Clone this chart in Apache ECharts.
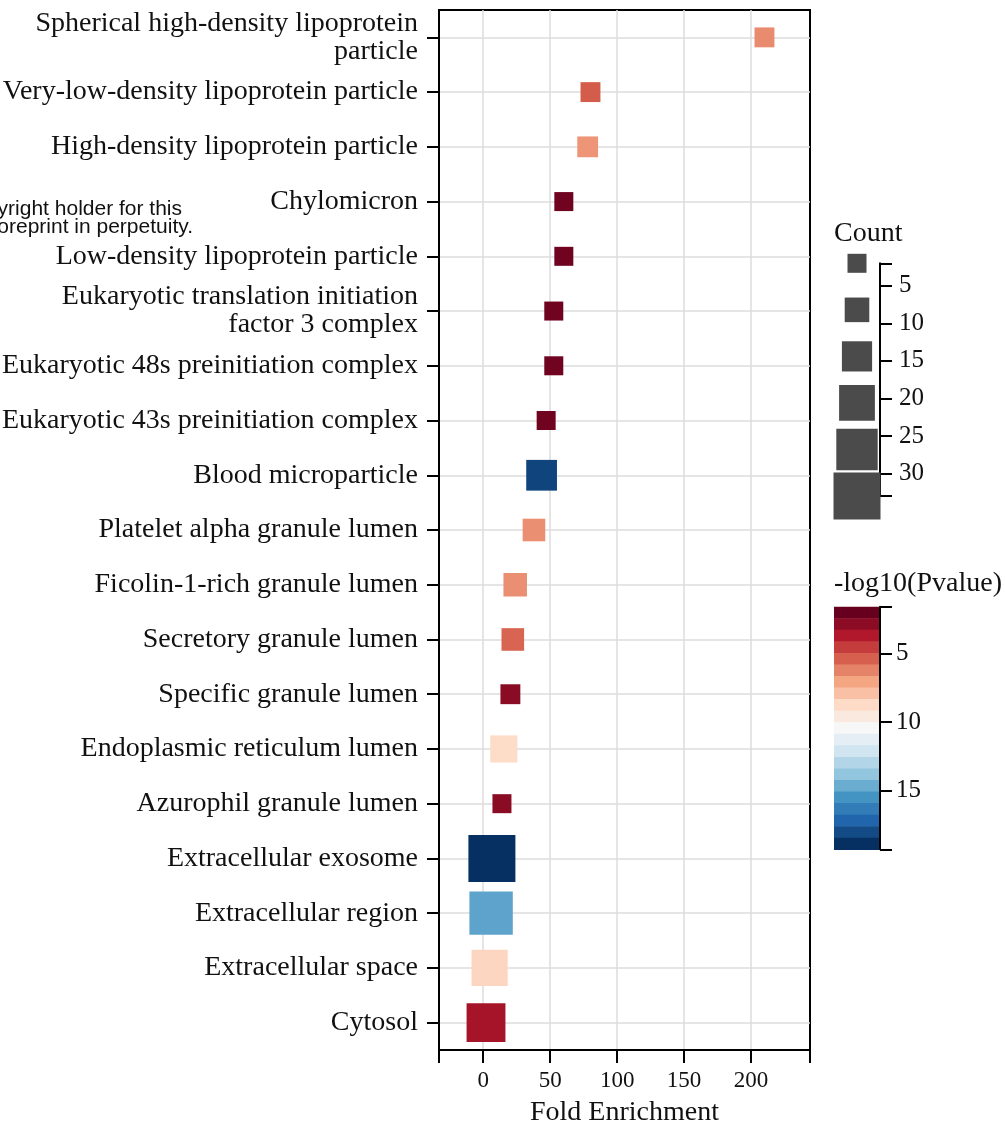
<!DOCTYPE html>
<html><head><meta charset="utf-8">
<script src="https://cdn.jsdelivr.net/npm/echarts@6/dist/echarts.min.js"></script>
<style>html,body{margin:0;padding:0;background:#fff}#c{width:1005px;height:1129px}</style>
</head><body><div id="c"></div>
<script>
// ---- data (top to bottom) ----
const categories = [
  'Spherical high-density lipoprotein\nparticle',
  'Very-low-density lipoprotein particle',
  'High-density lipoprotein particle',
  'Chylomicron',
  'Low-density lipoprotein particle',
  'Eukaryotic translation initiation\nfactor 3 complex',
  'Eukaryotic 48s preinitiation complex',
  'Eukaryotic 43s preinitiation complex',
  'Blood microparticle',
  'Platelet alpha granule lumen',
  'Ficolin-1-rich granule lumen',
  'Secretory granule lumen',
  'Specific granule lumen',
  'Endoplasmic reticulum lumen',
  'Azurophil granule lumen',
  'Extracellular exosome',
  'Extracellular region',
  'Extracellular space',
  'Cytosol'
];
const foldEnrichment = [210, 80.1, 78, 60.2, 60.2, 52.7, 52.7, 47.0, 43.6, 37.9, 23.9, 22.1, 20.3, 15.4, 14.0, 6.5, 5.9, 4.8, 2.1];
const geneCount      = [3, 3, 4, 2, 2, 2, 2, 2, 15, 6, 7, 6, 3, 11, 2, 33, 29, 21, 24];
const negLog10P      = [6.24, 5.04, 6.49, 1.8, 1.8, 1.8, 1.8, 1.8, 18.6, 6.33, 6.33, 5.27, 2.4, 8.7, 2.4, 19.25, 15.15, 8.5, 3.06];

const foldTicks = [0, 50, 100, 150, 200];
const countTicks = [5, 10, 15, 20, 25, 30];
const pTicks = [5, 10, 15];
const countLegendValues = [2, 8.2, 14.4, 20.6, 26.8, 33];

// ---- scales ----
const FOLD_MIN = -33, FOLD_MAX = 244;
const COUNT_MIN = 2, COUNT_MAX = 33;
const P_MIN = 1.6, P_MAX = 19.25;
const N_BANDS = 21;
const SIZE_MIN = 19, SIZE_MAX = 47;
function sizeFor(c) { return SIZE_MIN + (c - COUNT_MIN) * (SIZE_MAX - SIZE_MIN) / (COUNT_MAX - COUNT_MIN); }

const rdbu = ['#67001f','#b2182b','#d6604d','#f4a582','#fddbc7','#f7f7f7','#d1e5f0','#92c5de','#4393c3','#2166ac','#053061'];
function hex(h) { return [1, 3, 5].map(k => parseInt(h.substr(k, 2), 16)); }
function cmap(t) {
  t = Math.max(0, Math.min(1, t));
  const s = t * 10, k = Math.min(9, Math.floor(s)), f = s - k;
  const a = hex(rdbu[k]), b = hex(rdbu[k + 1]);
  return 'rgb(' + a.map((v, j) => Math.round(v + (b[j] - v) * f)).join(',') + ')';
}
function colorFor(p) { return cmap((p - P_MIN) / (P_MAX - P_MIN)); }
const bandIdx = Array.from({length: N_BANDS}, (_, i) => i);

const SERIF = 'Liberation Serif';
const black = '#000';

const chart = echarts.init(document.getElementById('c'), null, {renderer: 'canvas'});
chart.setOption({
  animation: false,
  backgroundColor: '#fff',
  textStyle: {fontFamily: SERIF, color: '#000'},
  grid: [
    {left: 439, right: 195, top: 10, bottom: 79, show: true, borderColor: black, borderWidth: 2, containLabel: false, outerBoundsMode: 'none'},
    {left: 834, width: 46, top: 263.3, height: 232.7, containLabel: false, outerBoundsMode: 'none'},
    {left: 834, width: 46, top: 606.7, height: 242.6, containLabel: false, outerBoundsMode: 'none'}
  ],
  xAxis: [
    {
      gridIndex: 0, type: 'value', min: FOLD_MIN, max: FOLD_MAX,
      name: 'Fold Enrichment', nameLocation: 'middle', nameGap: 49,
      nameTextStyle: {fontFamily: SERIF, fontSize: 28, color: '#111'},
      axisLine: {show: true, onZero: false, lineStyle: {color: black, width: 2}},
      axisTick: {show: true, length: 13, lineStyle: {color: black, width: 2}, customValues: foldTicks},
      axisLabel: {customValues: foldTicks, fontFamily: SERIF, fontSize: 23, color: '#111', margin: 19},
      splitLine: {show: true, lineStyle: {color: '#dcdcdc', width: 1.5}}
    },
    {gridIndex: 1, type: 'value', min: -1, max: 1, show: false},
    {gridIndex: 2, type: 'value', min: -1, max: 1, show: false},
    {
      gridIndex: 0, type: 'value', position: 'bottom', min: FOLD_MIN, max: FOLD_MAX,
      axisLine: {show: true, onZero: false, lineStyle: {color: black, width: 2}},
      axisTick: {show: true, length: 13, lineStyle: {color: black, width: 2}, customValues: [FOLD_MIN, FOLD_MAX]},
      axisLabel: {show: false},
      splitLine: {show: false}
    }
  ],
  yAxis: [
    {
      gridIndex: 0, type: 'category', data: categories, inverse: true,
      axisLine: {show: true, onZero: false, lineStyle: {color: black, width: 2}},
      axisTick: {show: true, alignWithLabel: true, length: 12, lineStyle: {color: black, width: 2}},
      axisLabel: {fontFamily: SERIF, fontSize: 28, lineHeight: 28, color: '#111', margin: 21, align: 'right', interval: 0},
      splitLine: {show: true, alignWithLabel: true, lineStyle: {color: '#dcdcdc', width: 1.5}}
    },
    {
      gridIndex: 1, type: 'value', position: 'right', min: COUNT_MIN, max: COUNT_MAX, inverse: true,
      axisLine: {show: true, onZero: false, lineStyle: {color: black, width: 2}},
      axisTick: {show: true, length: 12, lineStyle: {color: black, width: 2}, customValues: [COUNT_MIN].concat(countTicks, [COUNT_MAX])},
      axisLabel: {customValues: countTicks, fontFamily: SERIF, fontSize: 25, color: '#111', margin: 19},
      splitLine: {show: false}
    },
    {
      gridIndex: 2, type: 'value', position: 'right', min: P_MIN, max: P_MAX, inverse: true,
      axisLine: {show: true, onZero: false, lineStyle: {color: black, width: 2}},
      axisTick: {show: true, length: 12, lineStyle: {color: black, width: 2}, customValues: [P_MIN].concat(pTicks, [P_MAX])},
      axisLabel: {customValues: pTicks, fontFamily: SERIF, fontSize: 25, color: '#111', margin: 16},
      splitLine: {show: false}
    }
  ],
  series: [
    {
      type: 'scatter', xAxisIndex: 0, yAxisIndex: 0, clip: false,
      symbol: 'rect',
      data: categories.map((c, i) => [foldEnrichment[i], c, geneCount[i], negLog10P[i]]),
      symbolSize: v => sizeFor(v[2]),
      itemStyle: {color: p => colorFor(p.value[3]), opacity: 1},
      emphasis: {disabled: true}
    },
    {
      type: 'scatter', xAxisIndex: 1, yAxisIndex: 1, clip: false,
      symbol: 'rect',
      data: countLegendValues.map(c => [0, c]),
      symbolSize: v => sizeFor(v[1]),
      itemStyle: {color: '#4b4b4b', opacity: 1},
      emphasis: {disabled: true}
    },
    {
      type: 'custom', xAxisIndex: 2, yAxisIndex: 2, clip: false,
      data: bandIdx.map(i => [i]),
      renderItem: function (params, api) {
        const i = api.value(0);
        const w = (P_MAX - P_MIN) / N_BANDS;
        const p1 = api.coord([0, P_MIN + i * w]);
        const p2 = api.coord([0, P_MIN + (i + 1) * w]);
        const cs = params.coordSys;
        return {
          type: 'rect',
          shape: {x: cs.x, y: Math.min(p1[1], p2[1]), width: cs.width - 1, height: Math.abs(p2[1] - p1[1]) + 0.6},
          style: {fill: cmap(i / (N_BANDS - 1))}
        };
      }
    }
  ],
  graphic: [
    {type: 'text', x: 834, y: 234, style: {text: 'Count', fontFamily: SERIF, fontSize: 28, fill: '#111', textAlign: 'left', textVerticalAlign: 'middle'}},
    {type: 'text', x: 834, y: 584, style: {text: '-log10(Pvalue)', fontFamily: SERIF, fontSize: 28, fill: '#111', textAlign: 'left', textVerticalAlign: 'middle'}},
    {type: 'text', x: 182, y: 209, style: {text: 'yright holder for this', fontFamily: 'Liberation Sans', fontSize: 21, fill: '#111', textAlign: 'right', textVerticalAlign: 'middle'}},
    {type: 'text', x: 193, y: 227, style: {text: 'oreprint in perpetuity.', fontFamily: 'Liberation Sans', fontSize: 21, fill: '#111', textAlign: 'right', textVerticalAlign: 'middle'}}
  ]
});
</script>
</body></html>
